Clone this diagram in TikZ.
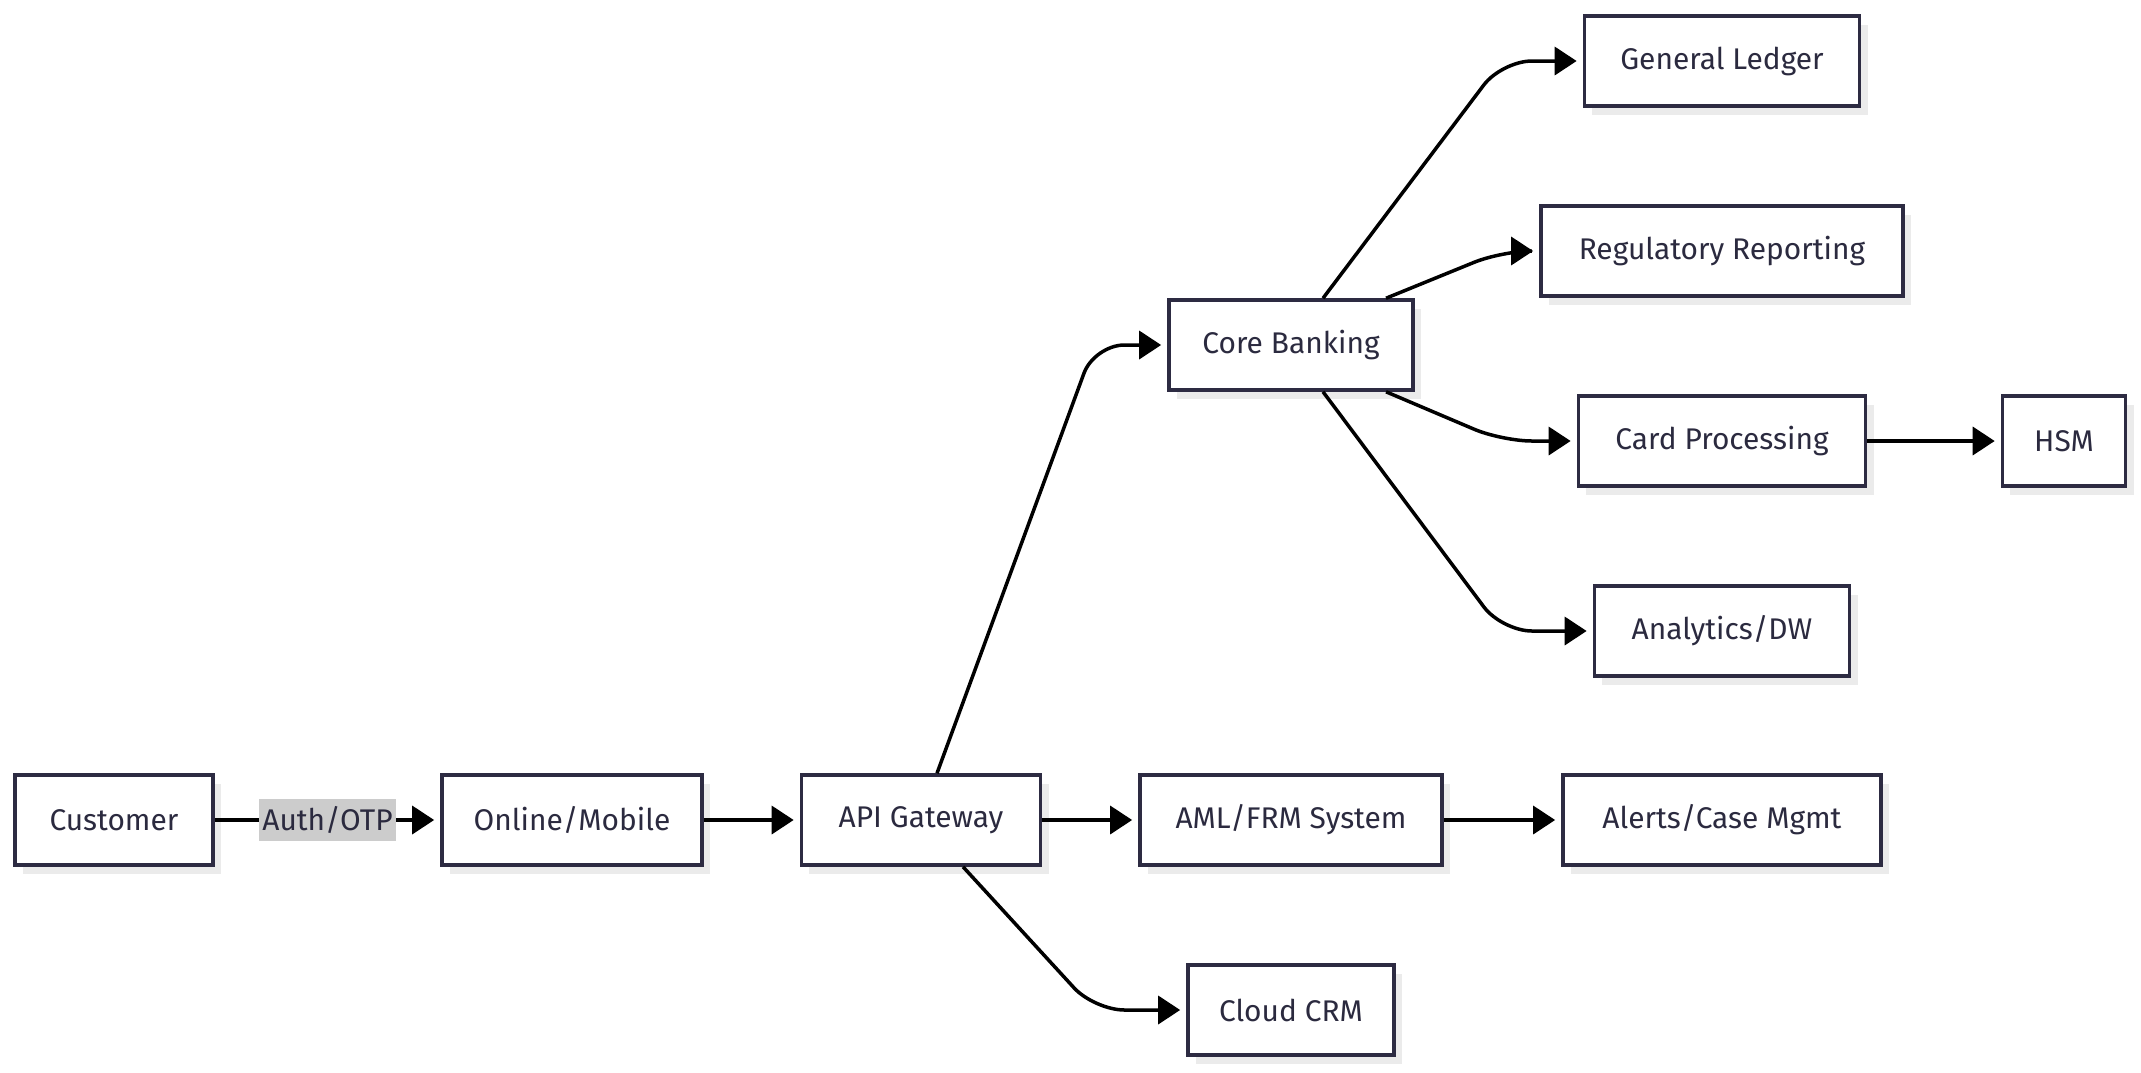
\documentclass[tikz,border=0pt]{standalone}
\usepackage{fontspec}
\setmainfont{Fira Sans}
\usepackage{xcolor}
\usetikzlibrary{arrows.meta, positioning, calc, shadows}
\definecolor{boxline}{HTML}{2D2B42}
\definecolor{boxtext}{HTML}{2B2A3F}
\definecolor{boxshadow}{HTML}{EBEBEB}
\definecolor{labelfill}{HTML}{CCCCCC}

\begin{document}
\begin{tikzpicture}[
  x=0.01cm, y=-0.01cm,
  box/.style={rectangle, draw=boxline, line width=0.035cm, fill=white, text=boxtext, minimum height=0.9cm, inner sep=0pt, font=\fontsize{8.5}{10}\selectfont, drop shadow={shadow xshift=0.08cm, shadow yshift=-0.09cm, fill=boxshadow, opacity=1}},
  arr/.style={-{Triangle[length=0.22cm, width=0.28cm]}, line width=0.035cm, shorten >=0.06cm},
  lbl/.style={fill=labelfill, text=boxtext, inner xsep=1pt, inner ysep=0pt, minimum height=0.42cm, font=\fontsize{8.5}{10}\selectfont}
]
\useasboundingbox (0,0) rectangle (2141,1072);

\node[box, minimum width=1.98cm] (cust) at (114,820) {Customer};
\node[box, minimum width=2.60cm] (online) at (572,820) {Online/Mobile};
\node[box, minimum width=2.39cm] (api) at (921,820) {API Gateway};
\node[box, minimum width=3.02cm] (aml) at (1291,820) {AML/FRM System};
\node[box, minimum width=3.18cm] (alerts) at (1722,820) {Alerts/Case Mgmt};
\node[box, minimum width=2.06cm] (crm) at (1291,1010) {Cloud CRM};
\node[box, minimum width=2.44cm] (core) at (1291,345) {Core Banking};
\node[box, minimum width=2.75cm] (gl) at (1722,61) {General Ledger};
\node[box, minimum width=3.62cm] (reg) at (1722,251) {Regulatory Reporting};
\node[box, minimum width=2.87cm] (card) at (1722,441) {Card Processing};
\node[box, minimum width=1.23cm] (hsm) at (2064,441) {HSM};
\node[box, minimum width=2.55cm] (dw) at (1722,631) {Analytics/DW};

\coordinate (fork) at ($(api.east)+(0.52cm,0)$);
\coordinate (split) at ($(core.east)+(0.87cm,0)$);

\draw[arr] (cust) -- node[lbl] {Auth/OTP} (online);
\draw[arr] (online) -- (api);
\draw[arr] (api) -- (aml);
\draw[arr] (aml) -- (alerts);
\draw[arr] (card) -- (hsm);
\draw[arr, rounded corners=0.3cm] ([xshift=0.16cm]api.north) -- (fork |- core.west) -- (core.west);
\draw[arr, rounded corners=0.3cm] ([xshift=0.42cm]api.south) -- (fork |- crm.west) -- (crm.west);
\draw[arr, rounded corners=0.3cm] ([xshift=0.32cm]core.north) -- (split |- gl.west) -- (gl.west);
\draw[arr, rounded corners=0.3cm] ([xshift=0.95cm]core.north) -- (split |- reg.west) -- (reg.west);
\draw[arr, rounded corners=0.3cm] ([xshift=0.95cm]core.south) -- (split |- card.west) -- (card.west);
\draw[arr, rounded corners=0.3cm] ([xshift=0.32cm]core.south) -- (split |- dw.west) -- (dw.west);
\end{tikzpicture}
\end{document}
